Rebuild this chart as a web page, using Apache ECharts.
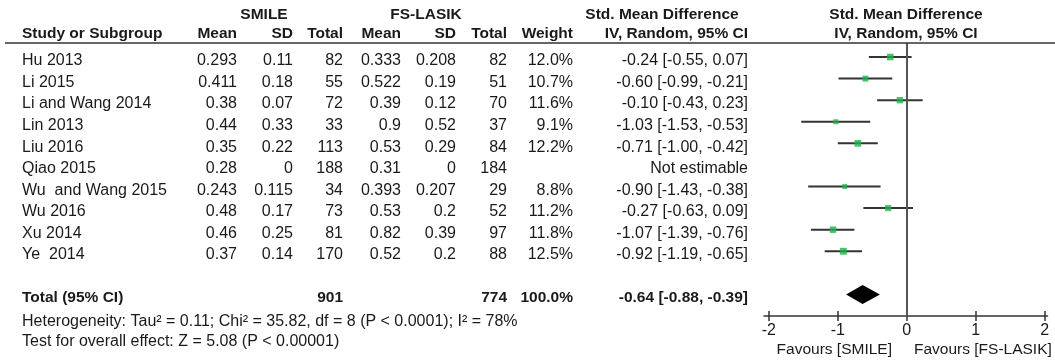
<!DOCTYPE html>
<html><head><meta charset="utf-8">
<script src="https://cdn.jsdelivr.net/npm/echarts@6/dist/echarts.min.js"></script>
<style>html,body{margin:0;padding:0;background:#fff}#c{width:1055px;height:362px}</style>
</head><body><div id="c"></div>
<script>
// ---------- DATA ----------
const studies   = ['Hu 2013','Li 2015','Li and Wang 2014','Lin 2013','Liu 2016','Qiao 2015','Wu  and Wang 2015','Wu 2016','Xu 2014','Ye  2014'];
const smileMean = ['0.293','0.411','0.38','0.44','0.35','0.28','0.243','0.48','0.46','0.37'];
const smileSD   = ['0.11','0.18','0.07','0.33','0.22','0','0.115','0.17','0.25','0.14'];
const smileN    = [82,55,72,33,113,188,34,73,81,170];
const fsMean    = ['0.333','0.522','0.39','0.9','0.53','0.31','0.393','0.53','0.82','0.52'];
const fsSD      = ['0.208','0.19','0.12','0.52','0.29','0','0.207','0.2','0.39','0.2'];
const fsN       = [82,51,70,37,84,184,29,52,97,88];
const weights   = [12.0,10.7,11.6,9.1,12.2,null,8.8,11.2,11.8,12.5];
const smd       = [-0.24,-0.60,-0.10,-1.03,-0.71,null,-0.90,-0.27,-1.07,-0.92];
const ciLow     = [-0.55,-0.99,-0.43,-1.53,-1.00,null,-1.43,-0.63,-1.39,-1.19];
const ciHigh    = [0.07,-0.21,0.23,-0.53,-0.42,null,-0.38,0.09,-0.76,-0.65];
const totalSmileN = 901, totalFsN = 774, totalWeight = 100.0;
const totalSmd = -0.64, totalLow = -0.88, totalHigh = -0.39;
const hetText  = 'Heterogeneity: Tau\u00b2 = 0.11; Chi\u00b2 = 35.82, df = 8 (P < 0.0001); I\u00b2 = 78%';
const testText = 'Test for overall effect: Z = 5.08 (P < 0.00001)';
const xTicks   = [-2,-1,0,1,2];
const favLeft = 'Favours [SMILE]', favRight = 'Favours [FS-LASIK]';

// ---------- LAYOUT ----------
const FONT = "'Liberation Sans', Arial, sans-serif";
const TXT = '#1a1a1a';
const COL = {name:22, sMean:237, sSD:293, sN:343, fMean:401, fSD:456, fN:507, weight:573, ci:748,
             smileHdr:264, fsHdr:426, smdHdr:662};
const HDR1 = -2.13, HDR2 = -1.25, TOT = 11, HET = 12.11, TEST = 13.04;

const fmt2 = v => (v < 0 ? '-' : '') + Math.abs(v).toFixed(2);
const ciStr = (e, l, h) => fmt2(e) + ' [' + fmt2(l) + ', ' + fmt2(h) + ']';

const cells = []; // [x, row, text, align, bold]
cells.push([COL.smileHdr, HDR1, 'SMILE', 'center', 1]);
cells.push([COL.fsHdr, HDR1, 'FS-LASIK', 'center', 1]);
cells.push([COL.smdHdr, HDR1, 'Std. Mean Difference', 'center', 1]);
cells.push([COL.name, HDR2, 'Study or Subgroup', 'left', 1]);
cells.push([COL.sMean, HDR2, 'Mean', 'right', 1]);
cells.push([COL.sSD, HDR2, 'SD', 'right', 1]);
cells.push([COL.sN, HDR2, 'Total', 'right', 1]);
cells.push([COL.fMean, HDR2, 'Mean', 'right', 1]);
cells.push([COL.fSD, HDR2, 'SD', 'right', 1]);
cells.push([COL.fN, HDR2, 'Total', 'right', 1]);
cells.push([COL.weight, HDR2, 'Weight', 'right', 1]);
cells.push([COL.ci, HDR2, 'IV, Random, 95% CI', 'right', 1]);
studies.forEach((s, i) => {
  cells.push([COL.name, i, s, 'left', 0]);
  cells.push([COL.sMean, i, smileMean[i], 'right', 0]);
  cells.push([COL.sSD, i, smileSD[i], 'right', 0]);
  cells.push([COL.sN, i, String(smileN[i]), 'right', 0]);
  cells.push([COL.fMean, i, fsMean[i], 'right', 0]);
  cells.push([COL.fSD, i, fsSD[i], 'right', 0]);
  cells.push([COL.fN, i, String(fsN[i]), 'right', 0]);
  if (weights[i] != null) cells.push([COL.weight, i, weights[i].toFixed(1) + '%', 'right', 0]);
  cells.push([COL.ci, i, smd[i] == null ? 'Not estimable' : ciStr(smd[i], ciLow[i], ciHigh[i]), 'right', 0]);
});
cells.push([COL.name, TOT, 'Total (95% CI)', 'left', 1]);
cells.push([COL.sN, TOT, String(totalSmileN), 'right', 1]);
cells.push([COL.fN, TOT, String(totalFsN), 'right', 1]);
cells.push([COL.weight, TOT, totalWeight.toFixed(1) + '%', 'right', 1]);
cells.push([COL.ci, TOT, ciStr(totalSmd, totalLow, totalHigh), 'right', 1]);
cells.push([COL.name, HET, hetText, 'left', 0]);
cells.push([COL.name, TEST, testText, 'left', 0]);

const ciData = [], sqData = [];
studies.forEach((s, i) => {
  if (smd[i] == null) return;
  ciData.push([ciLow[i], ciHigh[i], i]);
  sqData.push([smd[i], i, weights[i]]);
});

const chart = echarts.init(document.getElementById('c'));
const forestX = {gridIndex:1, type:'value', min:-2.07, max:2.04, splitLine:{show:false}};
chart.setOption({
  animation:false,
  backgroundColor:'#fff',
  grid:[
    {left:0, right:0, top:7.1, bottom:10.1},
    {left:764, right:7.5, top:43, bottom:46}
  ],
  xAxis:[
    {gridIndex:0, type:'value', min:0, max:1055, show:false},
    Object.assign({}, forestX, {
      position:'bottom',
      axisLine:{show:true, onZero:false, lineStyle:{color:'#333', width:1.5}},
      axisTick:{show:true, inside:false, length:5, customValues:xTicks, lineStyle:{color:'#333', width:1.5}},
      axisLabel:{show:true, customValues:xTicks, margin:7, color:TXT, fontSize:16, fontFamily:FONT}
    }),
    Object.assign({}, forestX, {
      position:'bottom',
      axisLine:{show:false, onZero:false},
      axisTick:{show:true, inside:true, length:5, customValues:xTicks, lineStyle:{color:'#333', width:1.5}},
      axisLabel:{show:false}
    })
  ],
  yAxis:[
    {gridIndex:0, type:'value', min:-2.5, max:13.5, inverse:true, show:false},
    {gridIndex:1, type:'value', min:-0.65, max:12, inverse:true, show:false}
  ],
  graphic:[
    {type:'line', shape:{x1:5, y1:43, x2:1055, y2:43}, style:{stroke:'#333', lineWidth:1.5}, z:10},
    {type:'text', x:906, y:15, style:{text:'Std. Mean Difference', align:'center', verticalAlign:'middle', fill:TXT, fontSize:15.5, fontWeight:'bold', fontFamily:FONT}},
    {type:'text', x:906, y:34, style:{text:'IV, Random, 95% CI', align:'center', verticalAlign:'middle', fill:TXT, fontSize:15.5, fontWeight:'bold', fontFamily:FONT}},
    {type:'text', x:892, y:350, style:{text:favLeft, align:'right', verticalAlign:'middle', fill:TXT, fontSize:15.5, fontFamily:FONT}},
    {type:'text', x:914, y:350, style:{text:favRight, align:'left', verticalAlign:'middle', fill:TXT, fontSize:15.5, fontFamily:FONT}}
  ],
  series:[
    {
      type:'custom', xAxisIndex:0, yAxisIndex:0, silent:true, clip:false,
      data: cells.map(c => [c[0], c[1]]),
      encode:{x:0, y:1},
      renderItem:(params, api) => {
        const c = cells[params.dataIndex];
        const p = api.coord([c[0], c[1]]);
        return {type:'text', x:p[0], y:p[1], style:{text:c[2], align:c[3], verticalAlign:'middle',
          fill:TXT, fontSize:c[4] ? 15.5 : 16, fontWeight:c[4] ? 'bold' : 'normal', fontFamily:FONT}};
      }
    },
    {
      type:'custom', xAxisIndex:1, yAxisIndex:1, silent:true, z:3,
      data: ciData, encode:{x:[0,1], y:2},
      renderItem:(params, api) => {
        const a = api.coord([api.value(0), api.value(2)]);
        const b = api.coord([api.value(1), api.value(2)]);
        return {type:'line', shape:{x1:a[0], y1:a[1], x2:b[0], y2:b[1]}, style:{stroke:'#333', lineWidth:2}};
      },
      markLine:{silent:true, symbol:'none', label:{show:false},
        lineStyle:{color:'#555', width:2, type:'solid'}, data:[{xAxis:0}]}
    },
    {
      type:'scatter', xAxisIndex:1, yAxisIndex:1, silent:true, z:4,
      symbol:'rect', symbolSize:v => v[2] * 0.55,
      itemStyle:{color:'#1db34a'},
      data: sqData
    },
    {
      type:'custom', xAxisIndex:1, yAxisIndex:1, silent:true, z:4,
      data:[[totalLow, totalSmd, totalHigh, TOT]], encode:{x:[0,1,2], y:3},
      renderItem:(params, api) => {
        const r = api.value(3), h = 9.5;
        const l = api.coord([api.value(0), r]);
        const m = api.coord([api.value(1), r]);
        const g = api.coord([api.value(2), r]);
        return {type:'polygon', shape:{points:[[l[0], l[1]], [m[0], m[1]-h], [g[0], g[1]], [m[0], m[1]+h]]}, style:{fill:'#000'}};
      }
    }
  ]
});
</script>
</body></html>
